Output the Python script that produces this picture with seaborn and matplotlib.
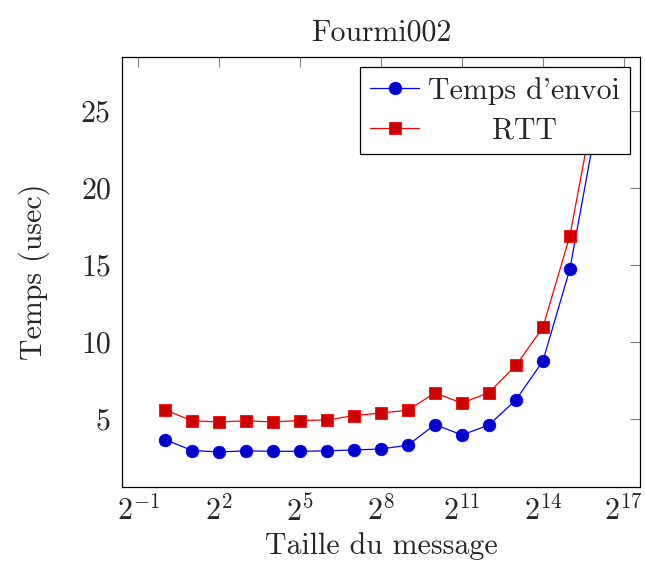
import matplotlib
matplotlib.use("Agg")
import matplotlib.pyplot as plt
import matplotlib.ticker as mticker
from matplotlib.transforms import Affine2D
import seaborn as sns
import pandas as pd
import numpy as np

# Données
tailles = [2 ** k for k in range(0, 17)]
temps_envoi = [3.63, 2.92, 2.83, 2.90, 2.87, 2.87, 2.90, 2.96, 3.02, 3.27,
               4.61, 3.93, 4.58, 6.21, 8.73, 14.71, 24.3]
rtt = [5.56, 4.85, 4.78, 4.85, 4.78, 4.87, 4.91, 5.19, 5.36, 5.54,
       6.67, 6.00, 6.69, 8.45, 10.92, 16.87, 26.2]
xtick_exp = [-1, 2, 5, 8, 11, 14, 17]
ytick_vals = [5, 10, 15, 20, 25]

sns.set_theme(style="white")
plt.rcParams["font.family"] = ["cmr10", "DejaVu Serif"]
plt.rcParams["mathtext.fontset"] = "cm"
plt.rcParams["axes.formatter.use_mathtext"] = True
plt.rcParams["axes.unicode_minus"] = False

FS = 21.5

df = pd.DataFrame({"taille": tailles, "envoi": temps_envoi, "rtt": rtt})

fig = plt.figure(figsize=(6.45, 5.71), dpi=100)
ax = fig.add_axes([122 / 645, 1 - 487 / 571, (640 - 122) / 645, (487 - 57) / 571])

sns.lineplot(data=df, x="taille", y="envoi", ax=ax, color=(0, 0, 1), lw=0.9,
             marker="o", markersize=9, markerfacecolor=(0, 0, 0.8),
             markeredgecolor=(0, 0, 1), markeredgewidth=0.6, label="Temps d'envoi")
sns.lineplot(data=df, x="taille", y="rtt", ax=ax, color=(1, 0, 0), lw=0.9,
             marker="s", markersize=8.5, markerfacecolor=(0.8, 0, 0),
             markeredgecolor=(1, 0, 0), markeredgewidth=0.6, label="RTT")

ax.set_xscale("log", base=2)
ax.set_xlim(2 ** -1.6, 2 ** 17.6)
ax.set_ylim(0.55, 28.5)
ax.xaxis.set_major_locator(mticker.FixedLocator([2.0 ** e for e in xtick_exp]))
ax.xaxis.set_major_formatter(mticker.FixedFormatter([f"$2^{{{e}}}$" for e in xtick_exp]))
ax.xaxis.set_minor_locator(mticker.NullLocator())
ax.set_yticks(ytick_vals)
ax.set_yticklabels([str(v) for v in ytick_vals])

ax.tick_params(axis="both", which="major", direction="in", length=7, width=0.8,
               color="0.5", labelsize=FS, top=True, right=True)
ax.tick_params(axis="x", pad=6)
ax.tick_params(axis="y", pad=8)
for s in ax.spines.values():
    s.set_color("black")
    s.set_linewidth(0.9)

ax.set_title("Fourmi002", fontsize=FS, pad=12)
ax.set_xlabel("Taille du message", fontsize=FS, labelpad=4)
ax.set_ylabel("Temps (usec)", fontsize=FS, labelpad=22)

leg = ax.legend(loc="upper right", fontsize=FS, frameon=True, fancybox=False,
                framealpha=1, edgecolor="black", borderaxespad=0.35,
                handlelength=1.65, handletextpad=0.3, labelspacing=0.4,
                borderpad=0.32)
leg.get_frame().set_linewidth(0.9)

# centrer les libellés de la légende comme pgfplots
fig.canvas.draw()
r = fig.canvas.get_renderer()
textes = leg.get_texts()
largeurs = [t.get_window_extent(r).width for t in textes]
wmax = max(largeurs)
for t, w in zip(textes, largeurs):
    t.set_transform(t.get_transform() + Affine2D().translate((wmax - w) / 2, 0))

fig.savefig("out.png", dpi=100)
